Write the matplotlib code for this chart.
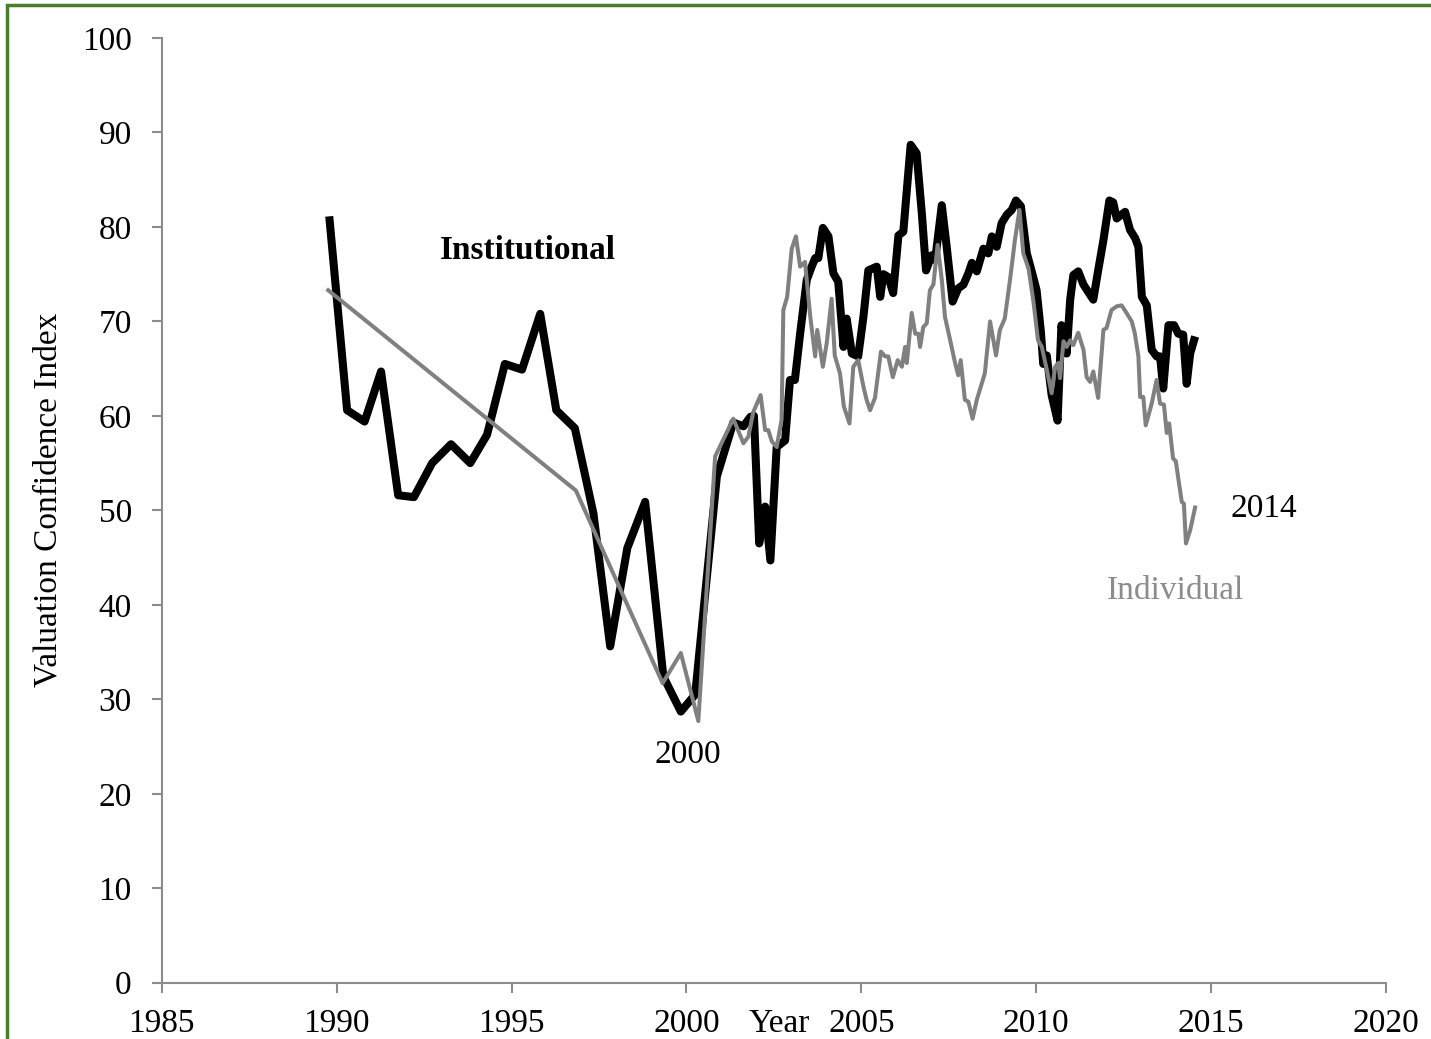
import matplotlib
matplotlib.use("Agg")
import matplotlib.pyplot as plt
from matplotlib.patches import Rectangle

plt.rcParams['font.family'] = ['Liberation Serif', 'DejaVu Serif']

# Institutional index (black)
inst_years = [1989.8, 1990.3, 1990.8, 1991.27, 1991.76, 1992.21, 1992.73, 1993.27, 1993.82,
              1994.3, 1994.81, 1995.3, 1995.82, 1996.28, 1996.81, 1997.34, 1997.82, 1998.31,
              1998.82, 1999.34, 1999.84, 2000.25, 2000.87, 2001.34, 2001.63, 2001.83, 2001.93,
              2002.08, 2002.25, 2002.4, 2002.58, 2002.82, 2002.96, 2003.1, 2003.25, 2003.44,
              2003.58, 2003.68, 2003.77, 2003.9, 2004.06, 2004.2, 2004.34, 2004.49, 2004.58,
              2004.73, 2004.91, 2005.06, 2005.2, 2005.44, 2005.54, 2005.63, 2005.77, 2005.91,
              2006.06, 2006.2, 2006.41, 2006.58, 2006.73, 2006.85, 2007.01, 2007.11, 2007.3,
              2007.44, 2007.61, 2007.77, 2007.92, 2008.06, 2008.16, 2008.3, 2008.49, 2008.63,
              2008.73, 2008.87, 2009.01, 2009.16, 2009.3, 2009.42, 2009.56, 2009.73, 2009.87,
              2010.01, 2010.13, 2010.2, 2010.3, 2010.44, 2010.61, 2010.72, 2010.87, 2010.97,
              2011.06, 2011.2, 2011.35, 2011.49, 2011.63, 2011.77, 2011.92, 2012.09, 2012.2,
              2012.3, 2012.54, 2012.68, 2012.83, 2012.92, 2013.02, 2013.16, 2013.3, 2013.44,
              2013.54, 2013.63, 2013.78, 2013.94, 2014.06, 2014.2, 2014.3, 2014.4, 2014.51]
inst_vals = [80.7, 60.6, 59.4, 64.7, 51.6, 51.4, 55.0, 57.0, 55.0,
             58.0, 65.5, 64.9, 70.8, 60.6, 58.7, 49.7, 35.6, 46.0,
             50.9, 32.4, 28.7, 30.5, 53.6, 59.3, 58.9, 59.9, 60.0,
             46.5, 50.4, 44.7, 56.7, 57.4, 63.8, 63.8, 68.7, 74.4,
             75.8, 76.7, 76.7, 79.9, 79.0, 75.1, 74.2, 67.3, 70.3,
             66.6, 66.3, 70.5, 75.4, 75.8, 72.6, 75.0, 74.7, 73.0,
             79.1, 79.5, 88.7, 87.8, 81.4, 75.4, 77.0, 76.5, 82.3,
             77.9, 72.1, 73.5, 73.9, 75.1, 76.2, 75.3, 77.7, 77.2,
             79.0, 77.9, 80.4, 81.3, 81.8, 82.8, 82.2, 77.2, 75.3,
             73.3, 69.0, 65.5, 66.4, 62.2, 59.5, 69.6, 66.6, 72.3,
             74.9, 75.3, 73.9, 73.1, 72.3, 75.4, 78.6, 82.8, 82.6,
             80.9, 81.6, 79.7, 78.8, 77.9, 72.6, 71.7, 67.0, 66.3,
             66.3, 62.9, 69.6, 69.6, 68.7, 68.6, 63.4, 66.6, 68.0]

# Individual index (grey)
ind_years = [1989.76, 1996.84, 1999.32, 1999.84, 2000.34, 2000.82, 2001.34, 2001.63, 2001.77,
             2001.91, 2002.12, 2002.25, 2002.34, 2002.44, 2002.58, 2002.72, 2002.77, 2002.88,
             2003.01, 2003.13, 2003.25, 2003.39, 2003.54, 2003.68, 2003.74, 2003.9, 2004.01,
             2004.15, 2004.24, 2004.39, 2004.5, 2004.66, 2004.77, 2004.91, 2005.06, 2005.15,
             2005.25, 2005.39, 2005.56, 2005.68, 2005.77, 2005.9, 2006.04, 2006.16, 2006.25,
             2006.3, 2006.44, 2006.54, 2006.63, 2006.68, 2006.77, 2006.87, 2006.96, 2007.06,
             2007.18, 2007.3, 2007.39, 2007.54, 2007.68, 2007.77, 2007.84, 2007.96, 2008.06,
             2008.18, 2008.3, 2008.44, 2008.53, 2008.68, 2008.85, 2008.96, 2009.1, 2009.25,
             2009.39, 2009.52, 2009.63, 2009.78, 2009.92, 2010.05, 2010.16, 2010.3, 2010.44,
             2010.54, 2010.63, 2010.68, 2010.78, 2010.87, 2010.97, 2011.06, 2011.2, 2011.35,
             2011.44, 2011.54, 2011.63, 2011.77, 2011.92, 2012.01, 2012.15, 2012.3, 2012.44,
             2012.58, 2012.73, 2012.82, 2012.92, 2012.97, 2013.06, 2013.13, 2013.3, 2013.44,
             2013.54, 2013.65, 2013.73, 2013.8, 2013.91, 2013.99, 2014.06, 2014.16, 2014.22,
             2014.28, 2014.4, 2014.54]
ind_vals = [73.3, 52.1, 31.7, 34.9, 27.7, 55.7, 59.7, 57.1, 57.8,
            60.4, 62.2, 58.5, 58.5, 57.3, 56.7, 59.6, 71.2, 72.6,
            77.7, 79.0, 75.8, 76.3, 70.5, 66.3, 69.1, 65.2, 67.7,
            72.4, 66.4, 64.5, 61.0, 59.2, 65.2, 65.9, 63.1, 61.7,
            60.6, 61.9, 66.8, 66.3, 66.3, 64.1, 65.9, 65.2, 67.3,
            65.6, 70.9, 68.7, 68.7, 67.3, 69.4, 69.8, 73.3, 73.9,
            78.1, 74.4, 70.5, 68.0, 65.6, 64.3, 65.9, 61.7, 61.5,
            59.7, 61.7, 63.4, 64.5, 70.0, 66.4, 69.1, 70.3, 74.4,
            78.6, 81.8, 77.2, 75.6, 72.1, 68.0, 67.3, 64.9, 62.4,
            65.2, 65.6, 64.0, 67.9, 67.3, 68.0, 67.5, 68.8, 67.0,
            64.1, 63.6, 64.7, 61.9, 69.1, 69.3, 71.2, 71.6, 71.7,
            70.9, 70.0, 68.7, 66.3, 62.0, 62.0, 59.0, 61.3, 63.8,
            61.3, 61.2, 58.2, 59.2, 55.5, 55.2, 53.4, 50.9, 50.7,
            46.5, 47.9, 50.3]

x_ticks = [1985, 1990, 1995, 2000, 2005, 2010, 2015, 2020]
y_ticks = [0, 10, 20, 30, 40, 50, 60, 70, 80, 90, 100]

fs = 24
spine_col = '#8c8c8c'

fig = plt.figure(figsize=(14.31, 10.39), dpi=100)
ax = fig.add_axes([0.113, 0.0542, 0.8556, 0.9092])

ax.plot(inst_years, inst_vals, color='black', lw=5.8, solid_joinstyle='round', zorder=2)
ax.plot(ind_years, ind_vals, color='#808080', lw=2.9, solid_joinstyle='round', zorder=3)

ax.set_xlim(1985, 2020)
ax.set_ylim(0, 100)
ax.set_xticks(x_ticks)
ax.set_yticks(y_ticks)
ax.tick_params(axis='both', labelsize=fs, color=spine_col, width=1.5, length=7.5, direction='out')
ax.tick_params(axis='x', pad=11)
ax.tick_params(axis='y', pad=14)

for s in ['top', 'right']:
    ax.spines[s].set_visible(False)
for s in ['left', 'bottom']:
    ax.spines[s].set_color(spine_col)
    ax.spines[s].set_linewidth(1.5)

ax.text(1995.46, 77.5, 'Institutional', fontsize=fs, fontweight='bold', ha='center', va='center')
ax.text(2000.05, 24.1, '2000', fontsize=fs, ha='center', va='center')
ax.text(2016.5, 50.2, '2014', fontsize=fs, ha='center', va='center')
ax.text(2013.97, 41.5, 'Individual', fontsize=fs, color='#8c8c8c', ha='center', va='center')

# x label sits between the tick labels, on the same line
fig.text(779 / 1431, 1 - 1024 / 1039, 'Year', fontsize=fs, ha='center', va='center')
fig.text(48 / 1431, 1 - 500 / 1039, 'Valuation Confidence Index', fontsize=fs,
         rotation=90, ha='center', va='center')

# green frame, open on the right and bottom
fig.patches.append(Rectangle((7 / 1431, -0.1), 1.2, 1 - 5 / 1039 + 0.1, transform=fig.transFigure,
                             fill=False, edgecolor='#4a7d2c', lw=2.5, clip_on=False))

fig.savefig('out.png', dpi=100)
